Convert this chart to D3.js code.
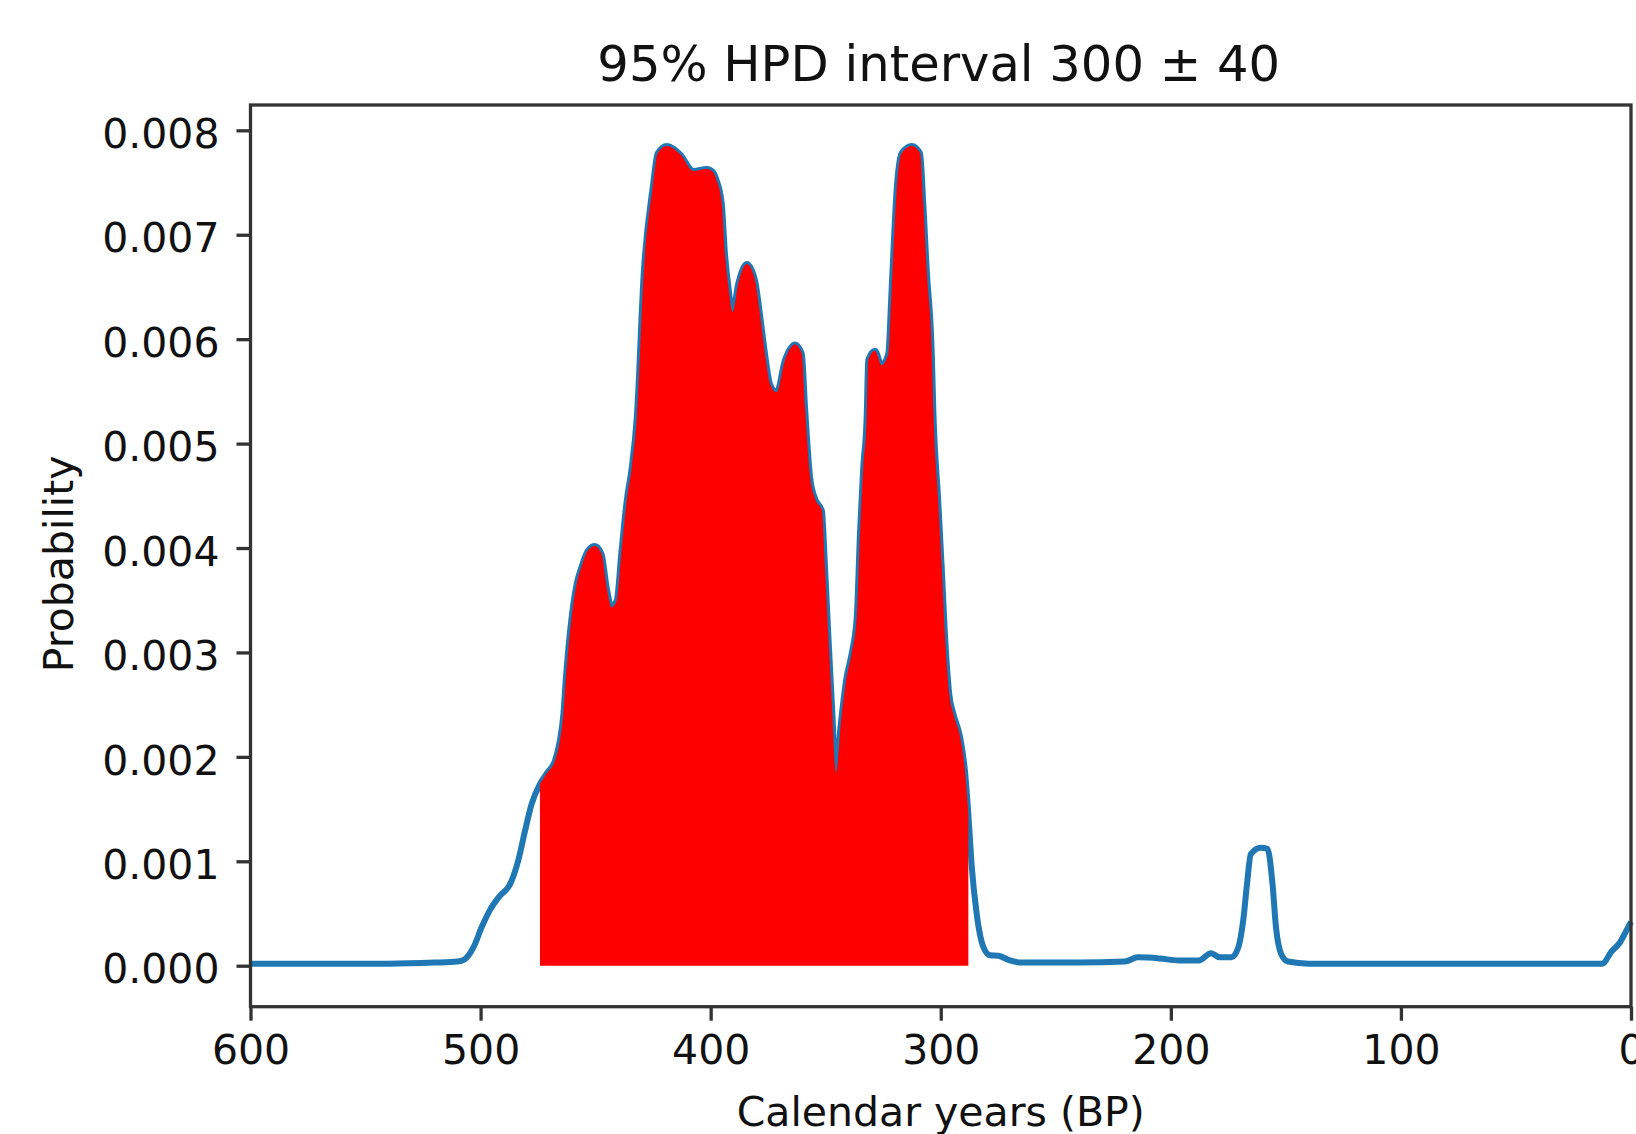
<!DOCTYPE html>
<html>
<head>
<meta charset="utf-8">
<script src="https://cdn.jsdelivr.net/npm/d3@7"></script>
<style>
  body { margin: 0; background: #fff; }
  text { font-family: "DejaVu Sans", sans-serif; fill: #111; }
</style>
</head>
<body>
<div id="d3js_canvas"></div>
<script>
// calendar years (BP) and probability
const years = [
  600, 580, 560, 540, 520, 510, 507, 503, 499.5, 496, 491.6, 487.2, 483.6, 480.7, 477.8,
  474.2, 471.3, 467.7, 465.5, 464, 463, 460.4, 458.2, 456.1, 453.2, 450.3, 447.4, 445.2,
  443, 440.8, 438.7, 436.5, 434.3, 432.1, 429, 425.2, 423, 419.1, 413.3, 407.5, 401.7,
  399, 397.4, 395.2, 393.8, 392.3, 390.4, 388, 384.3, 380.7, 378.6, 376.4, 374.2, 371.3,
  367.7, 363.3, 360.4, 359, 356.8, 354.6, 351.7, 350.3, 348.9, 347.4, 345.5, 343.5, 341,
  338.7, 336.5, 335.1, 333.7, 332.2, 331.5, 328.6, 325.7, 322.8, 321.3, 319.1, 317, 312.6,
  309, 307.6, 306.1, 303.9, 303.2, 301.1, 299.6, 298.2, 296.3, 294.5, 291.6, 289.5, 288,
  286.6, 284.4, 281.5, 278.6, 275, 270, 265, 240, 220, 214.4, 205, 196.6, 187.8, 182.5,
  178.8, 173.6, 170.6, 168.4, 166.9, 165.2, 160.9, 158, 155.8, 154.3, 152, 149.1, 140,
  100, 50, 12.3, 8.7, 4.9, 1.2, 0
]
const probability = [
  0.00002, 0.00002, 0.00002, 0.00002, 0.00003, 0.00004, 0.00006, 0.00018, 0.00037, 0.00053,
  0.00067, 0.00078, 0.00101, 0.00129, 0.00155, 0.00174, 0.00184, 0.00196, 0.00216, 0.00241,
  0.00273, 0.00334, 0.00366, 0.00382, 0.00398, 0.00402, 0.00394, 0.00362, 0.00343, 0.00350,
  0.00398, 0.00445, 0.00477, 0.00525, 0.00666, 0.00745, 0.00778, 0.00785, 0.00777, 0.00761,
  0.00763, 0.00760, 0.00752, 0.00730, 0.00682, 0.00650, 0.00626, 0.00653, 0.00672, 0.00656,
  0.00624, 0.00586, 0.00557, 0.00549, 0.00580, 0.00595, 0.00586, 0.00535, 0.00468, 0.00447,
  0.00436, 0.00382, 0.00318, 0.00254, 0.00185, 0.00230, 0.00275, 0.00299, 0.00334, 0.00414,
  0.00477, 0.00525, 0.00580, 0.00589, 0.00575, 0.00586, 0.00650, 0.00745, 0.00778, 0.00785,
  0.00778, 0.00730, 0.00666, 0.00586, 0.00530, 0.00445, 0.00382, 0.00318, 0.00260, 0.00241,
  0.00219, 0.00187, 0.00145, 0.00097, 0.00050, 0.00018, 0.00010, 0.000096, 0.00005, 0.00003,
  0.00003, 0.00004, 0.00008, 0.00007, 0.00005, 0.00005, 0.00012, 0.00008, 0.00008, 0.00018,
  0.00046, 0.00078, 0.00107, 0.00113, 0.00112, 0.00078, 0.00037, 0.00011, 0.00004, 0.00002,
  0.00002, 0.00002, 0.00002, 0.00013, 0.00022, 0.00037, 0.00042
]
// 95% HPD interval bounds (BP)
const hpdRange = [474.2, 288]
const xTicks = [600, 500, 400, 300, 200, 100, 0]
const yTicks = [0, 0.001, 0.002, 0.003, 0.004, 0.005, 0.006, 0.007, 0.008]
const titleText = '95% HPD interval 300 \u00b1 40'
const xLabel = 'Calendar years (BP)'
const yLabel = 'Probability'

const width = 1636
const height = 1134
const margin = { top: 105, bottom: 127.3, left: 250.5, right: 5 }
const innerWidth = width - margin.left - margin.right
const innerHeight = height - margin.top - margin.bottom

const data = years.map((y, i) => ({ year: y, p: probability[i] }))

const svg = d3.select('#d3js_canvas')
    .append('svg')
    .attr('width', width)
    .attr('height', height)

// matplotlib style 5% padding on y
const pMax = d3.max(probability)
const pad = pMax * 0.05
const xScale = d3.scaleLinear().domain([600, 0]).range([0, innerWidth])
const yScale = d3.scaleLinear().domain([-pad, pMax + pad]).range([innerHeight, 0])

const g = svg.append('g')
    .attr('transform', `translate(${margin.left}, ${margin.top})`)

// the curve (years run 600 -> 0 so pixel x increases)
const line = d3.line()
    .curve(d3.curveMonotoneX)
    .x(d => xScale(d.year))
    .y(d => yScale(d.p))
g.append('path')
    .datum(data)
    .attr('fill', 'none')
    .attr('stroke', '#1f77b4')
    .attr('stroke-width', 6)
    .attr('stroke-linejoin', 'round')
    .attr('d', line)

// HPD shading, drawn over the line like fill_between
const area = d3.area()
    .curve(d3.curveMonotoneX)
    .x(d => xScale(d.year))
    .y0(yScale(0))
    .y1(d => yScale(d.p))
g.append('path')
    .datum(data.filter(d => d.year <= hpdRange[0] && d.year >= hpdRange[1]))
    .attr('fill', '#ff0000')
    .attr('d', area)

// axes
const tickSize = 14
const xAxis = d3.axisBottom(xScale)
    .tickValues(xTicks)
    .tickFormat(d3.format('d'))
    .tickSize(tickSize)
    .tickPadding(14)
const yAxis = d3.axisLeft(yScale)
    .tickValues(yTicks)
    .tickFormat(d3.format('.3f'))
    .tickSize(tickSize)
    .tickPadding(17)

const gx = g.append('g')
    .attr('transform', `translate(0, ${innerHeight})`)
    .call(xAxis)
const gy = g.append('g').call(yAxis)

for (const ax of [gx, gy]) {
    ax.select('.domain').remove()
    ax.selectAll('.tick line').attr('stroke', '#333').attr('stroke-width', 3.3)
    ax.selectAll('.tick text')
        .style('font-family', '"DejaVu Sans", sans-serif')
        .style('font-size', '41px')
        .attr('fill', '#111')
}
gy.selectAll('.tick text').attr('dy', '0.42em')
gx.selectAll('.tick text').attr('dy', '0.72em')

// frame
g.append('rect')
    .attr('x', 0)
    .attr('y', 0)
    .attr('width', innerWidth)
    .attr('height', innerHeight)
    .attr('fill', 'none')
    .attr('stroke', '#333')
    .attr('stroke-width', 3.3)

// title and labels
svg.append('text')
    .attr('x', margin.left + innerWidth / 2 - 2)
    .attr('y', 81)
    .attr('text-anchor', 'middle')
    .style('font-size', '49.6px')
    .text(titleText)

svg.append('text')
    .attr('x', margin.left + innerWidth / 2)
    .attr('y', 1126)
    .attr('text-anchor', 'middle')
    .style('font-size', '41px')
    .text(xLabel)

svg.append('text')
    .attr('transform', `translate(73, ${margin.top + innerHeight / 2 + 8}) rotate(-90)`)
    .attr('text-anchor', 'middle')
    .style('font-size', '41px')
    .text(yLabel)
</script>
</body>
</html>
